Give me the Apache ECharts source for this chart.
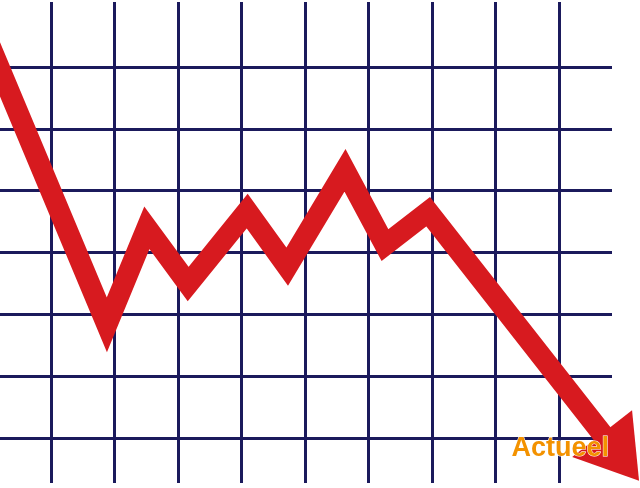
<!DOCTYPE html>
<html>
<head>
<meta charset="utf-8">
<script src="https://cdn.jsdelivr.net/npm/echarts@6/dist/echarts.min.js"></script>
<style>
html,body{margin:0;padding:0;background:#fff;}
#chart{width:640px;height:488px;}
</style>
</head>
<body>
<div id="chart"></div>
<script>
// Trend line points, in grid units: column index (vertical lines) and row index (horizontal lines, from bottom)
var trendX = [-0.99, 0.88, 1.51, 2.16, 3.09, 3.72, 4.63, 5.26, 5.94, 8.97];
var trendY = [6.42, 1.83, 3.40, 2.49, 3.67, 2.77, 4.33, 3.12, 3.66, -0.31];
var columnTicks = [0, 1, 2, 3, 4, 5, 6, 7, 8];
var rowTicks = [0, 1, 2, 3, 4, 5, 6];
var labelText = 'Actueel';

var navy = '#1b1a5c';
var red = '#d71a1f';

var data = trendX.map(function (x, i) {
  var item = { value: [x, trendY[i]] };
  if (i === trendX.length - 1) {
    item.symbol = 'triangle';
    item.symbolSize = [76, 60];
    item.symbolRotate = -142;
    item.itemStyle = { color: red, borderWidth: 0 };
  }
  return item;
});

var chart = echarts.init(document.getElementById('chart'), null, { renderer: 'canvas' });
chart.setOption({
  animation: false,
  backgroundColor: '#ffffff',
  grid: [
    { left: 51, right: 81, top: 2, bottom: 5 },
    { left: 0, right: 28, top: 67, bottom: 50 }
  ],
  xAxis: [
    {
      gridIndex: 0, type: 'value',
      min: columnTicks[0], max: columnTicks[columnTicks.length - 1], interval: 1,
      axisLine: { show: false }, axisTick: { show: false }, axisLabel: { show: false },
      splitLine: { show: true, lineStyle: { color: navy, width: 3 } }
    },
    {
      gridIndex: 1, type: 'value', min: -0.803, max: 8.835, show: false
    }
  ],
  yAxis: [
    { gridIndex: 0, type: 'value', min: 0, max: 1, show: false },
    {
      gridIndex: 1, type: 'value',
      min: rowTicks[0], max: rowTicks[rowTicks.length - 1], interval: 1,
      axisLine: { show: false }, axisTick: { show: false }, axisLabel: { show: false },
      splitLine: { show: true, lineStyle: { color: navy, width: 3 } }
    }
  ],
  series: [
    {
      type: 'line',
      xAxisIndex: 1, yAxisIndex: 1,
      clip: false,
      symbol: 'none',
      showSymbol: true,
      lineStyle: { color: red, width: 21, join: 'miter', miterLimit: 10, cap: 'butt' },
      itemStyle: { color: red },
      emphasis: { disabled: true },
      data: data,
      z: 3
    }
  ],
  graphic: [
    {
      type: 'text',
      left: 511, top: 435,
      z: 100,
      style: {
        text: labelText,
        font: 'bold 27px "Liberation Sans", Arial, sans-serif',
        fill: '#f39200',
        stroke: '#ffffff',
        lineWidth: 1
      }
    }
  ]
});
</script>
</body>
</html>
